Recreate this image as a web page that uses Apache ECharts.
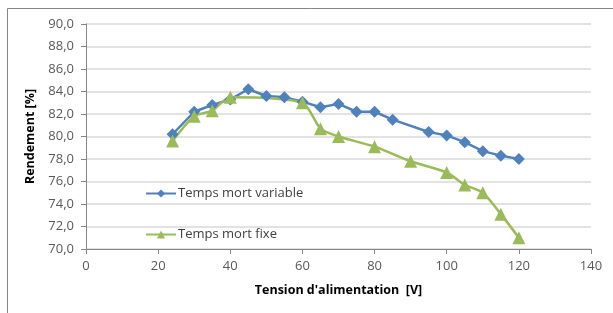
<!DOCTYPE html>
<html><head><meta charset="utf-8">
<script src="https://cdn.jsdelivr.net/npm/echarts@6/dist/echarts.min.js"></script>
<style>html,body{margin:0;padding:0;background:#fff}#c{width:613px;height:313px}</style>
</head><body><div id="c"></div>
<script>
const varX = [24,30,35,40,45,50,55,60,65,70,75,80,85,95,100,105,110,115,120];
const varY = [80.2,82.2,82.8,83.3,84.2,83.6,83.5,83.1,82.6,82.9,82.2,82.2,81.5,80.4,80.1,79.5,78.7,78.3,78.0];
const fixX = [24,30,35,40,60,65,70,80,90,100,105,110,115,120];
const fixY = [79.6,81.8,82.3,83.5,83.0,80.7,80.0,79.1,77.8,76.8,75.7,75.0,73.1,71.0];
const seriesNames = ['Temps mort variable','Temps mort fixe'];
const xName = "Tension d'alimentation  [V]";
const yName = 'Rendement [%]';

const font = 'Open Sans';
const chart = echarts.init(document.getElementById('c'), null, {renderer:'canvas'});
chart.setOption({
  animation:false,
  textStyle:{fontFamily:font},
  graphic:[{type:'rect',shape:{x:7.5,y:8.5,width:700,height:400},style:{fill:'none',stroke:'#868686',lineWidth:1}}],
  grid:{left:86,right:22,top:24,bottom:64,containLabel:false},
  legend:{orient:'vertical',left:140,top:182,itemGap:28,itemWidth:30,itemHeight:10,
    textStyle:{fontFamily:font,fontSize:13,color:'#404040',padding:[0,0,0,-3]},
    data:seriesNames},
  xAxis:{type:'value',min:0,max:140,interval:20,
    name:xName,nameLocation:'middle',nameGap:35,
    nameTextStyle:{fontFamily:font,fontWeight:'bold',fontSize:12.5,color:'#000'},
    axisLine:{lineStyle:{color:'#868686',width:1}},
    axisTick:{show:true,length:5,lineStyle:{color:'#868686'}},
    axisLabel:{color:'#595959',fontSize:13,margin:11},
    splitLine:{show:false}},
  yAxis:{type:'value',min:70,max:90,interval:2,
    name:yName,nameLocation:'middle',nameGap:41,nameRotate:90,
    nameTextStyle:{fontFamily:font,fontWeight:'bold',fontSize:12.5,color:'#000'},
    axisLine:{show:true,lineStyle:{color:'#868686',width:1}},
    axisTick:{show:true,length:5,lineStyle:{color:'#868686'}},
    axisLabel:{color:'#595959',fontSize:13,margin:12,formatter:v=>v.toFixed(1).replace('.',',')},
    splitLine:{lineStyle:{color:'#d9d9d9',width:1.5}}},
  series:[
    {name:seriesNames[0],type:'line',data:varX.map((x,i)=>[x,varY[i]]),
     symbol:'diamond',symbolSize:12,itemStyle:{color:'#4f81bd'},lineStyle:{color:'#4f81bd',width:2.5}},
    {name:seriesNames[1],type:'line',data:fixX.map((x,i)=>[x,fixY[i]]),smooth:0.25,
     symbol:'triangle',symbolSize:13,itemStyle:{color:'#9bbb59'},lineStyle:{color:'#9bbb59',width:2.5}}
  ]
});
</script></body></html>
